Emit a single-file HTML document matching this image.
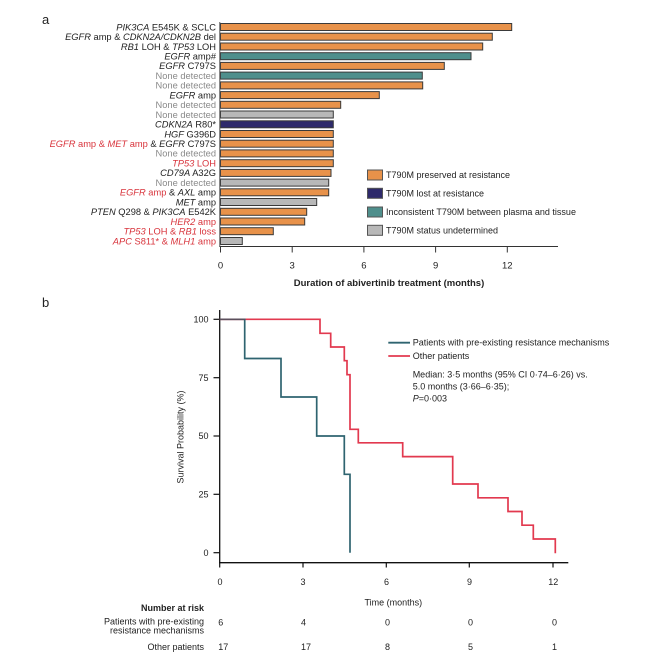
<!DOCTYPE html>
<html>
<head>
<meta charset="utf-8">
<style>
html,body{margin:0;padding:0;background:#fff;}
svg{display:block;}
text{font-family:"Liberation Sans",Arial,sans-serif;}
</style>
</head>
<body>
<svg width="668" height="665" viewBox="0 0 668 665" xmlns="http://www.w3.org/2000/svg">
<rect width="668" height="665" fill="#fff"/>

<!-- Panel labels -->
<text x="42" y="24" font-size="13" fill="#222">a</text>
<text x="42" y="307" font-size="13" fill="#222">b</text>

<!-- ===== Panel a: bars ===== -->
<g stroke="#3a3a3a" stroke-width="1">
<rect x="220.5" y="23.5" width="291.2" height="7" fill="#e8924a"/>
<rect x="220.5" y="33.2" width="271.8" height="7" fill="#e8924a"/>
<rect x="220.5" y="43.0" width="262.2" height="7" fill="#e8924a"/>
<rect x="220.5" y="52.7" width="250.5" height="7" fill="#4f8f8c"/>
<rect x="220.5" y="62.4" width="223.8" height="7" fill="#e8924a"/>
<rect x="220.5" y="72.1" width="201.8" height="7" fill="#4f8f8c"/>
<rect x="220.5" y="81.9" width="202.2" height="7" fill="#e8924a"/>
<rect x="220.5" y="91.6" width="158.8" height="7" fill="#e8924a"/>
<rect x="220.5" y="101.3" width="120.2" height="7" fill="#e8924a"/>
<rect x="220.5" y="111.0" width="112.8" height="7" fill="#b8b8b8"/>
<rect x="220.5" y="120.8" width="112.8" height="7" fill="#2e2a6b"/>
<rect x="220.5" y="130.5" width="112.8" height="7" fill="#e8924a"/>
<rect x="220.5" y="140.2" width="112.8" height="7" fill="#e8924a"/>
<rect x="220.5" y="149.9" width="112.8" height="7" fill="#e8924a"/>
<rect x="220.5" y="159.7" width="112.8" height="7" fill="#e8924a"/>
<rect x="220.5" y="169.4" width="110.5" height="7" fill="#e8924a"/>
<rect x="220.5" y="179.1" width="108.2" height="7" fill="#b8b8b8"/>
<rect x="220.5" y="188.8" width="108.2" height="7" fill="#e8924a"/>
<rect x="220.5" y="198.5" width="96.2" height="7" fill="#b8b8b8"/>
<rect x="220.5" y="208.3" width="86.2" height="7" fill="#e8924a"/>
<rect x="220.5" y="218.0" width="84.2" height="7" fill="#e8924a"/>
<rect x="220.5" y="227.7" width="52.8" height="7" fill="#e8924a"/>
<rect x="220.5" y="237.5" width="21.8" height="7" fill="#b8b8b8"/>
</g>

<!-- axes panel a -->
<line x1="219.8" y1="22" x2="219.8" y2="247" stroke="#555" stroke-width="1"/>
<line x1="219.5" y1="246.5" x2="558" y2="246.5" stroke="#333" stroke-width="1"/>
<g stroke="#333" stroke-width="1">
<line x1="220.5" y1="246.5" x2="220.5" y2="252.5"/>
<line x1="292.2" y1="246.5" x2="292.2" y2="252.5"/>
<line x1="363.9" y1="246.5" x2="363.9" y2="252.5"/>
<line x1="435.6" y1="246.5" x2="435.6" y2="252.5"/>
<line x1="507.3" y1="246.5" x2="507.3" y2="252.5"/>
</g>
<g font-size="9.5" fill="#222" text-anchor="middle">
<text x="220.5" y="268.5">0</text>
<text x="292.2" y="268.5">3</text>
<text x="363.9" y="268.5">6</text>
<text x="435.6" y="268.5">9</text>
<text x="507.3" y="268.5">12</text>
</g>
<text x="389" y="286" font-size="9.5" font-weight="bold" fill="#222" text-anchor="middle">Duration of abivertinib treatment (months)</text>

<!-- bar labels -->
<g font-size="9.3" fill="#222" text-anchor="end">
<text x="216" y="30.3"><tspan font-style="italic">PIK3CA</tspan> E545K &amp; SCLC</text>
<text x="216" y="40.0"><tspan font-style="italic">EGFR</tspan> amp &amp; <tspan font-style="italic">CDKN2A/CDKN2B</tspan>  del</text>
<text x="216" y="49.8"><tspan font-style="italic">RB1</tspan> LOH &amp; <tspan font-style="italic">TP53</tspan> LOH</text>
<text x="216" y="59.5"><tspan font-style="italic">EGFR</tspan> amp#</text>
<text x="216" y="69.2"><tspan font-style="italic">EGFR</tspan> C797S</text>
<text x="216" y="78.9" fill="#8a8a8a">None detected</text>
<text x="216" y="88.7" fill="#8a8a8a">None detected</text>
<text x="216" y="98.4"><tspan font-style="italic">EGFR</tspan> amp</text>
<text x="216" y="108.1" fill="#8a8a8a">None detected</text>
<text x="216" y="117.8" fill="#8a8a8a">None detected</text>
<text x="216" y="127.6"><tspan font-style="italic">CDKN2A</tspan> R80*</text>
<text x="216" y="137.3"><tspan font-style="italic">HGF</tspan> G396D</text>
<text x="216" y="147.0"><tspan fill="#d8343c" font-style="italic">EGFR</tspan><tspan fill="#d8343c"> amp &amp; </tspan><tspan fill="#d8343c" font-style="italic">MET</tspan><tspan fill="#d8343c"> amp</tspan> &amp; <tspan font-style="italic">EGFR</tspan> C797S</text>
<text x="216" y="156.7" fill="#8a8a8a">None detected</text>
<text x="216" y="166.5" fill="#d8343c"><tspan font-style="italic">TP53</tspan> LOH</text>
<text x="216" y="176.2"><tspan font-style="italic">CD79A</tspan> A32G</text>
<text x="216" y="185.9" fill="#8a8a8a">None detected</text>
<text x="216" y="195.6"><tspan fill="#d8343c" font-style="italic">EGFR</tspan><tspan fill="#d8343c"> amp</tspan> &amp; <tspan font-style="italic">AXL</tspan> amp</text>
<text x="216" y="205.3"><tspan font-style="italic">MET</tspan> amp</text>
<text x="216" y="215.1"><tspan font-style="italic">PTEN</tspan> Q298 &amp; <tspan font-style="italic">PIK3CA</tspan> E542K</text>
<text x="216" y="224.8" fill="#d8343c"><tspan font-style="italic">HER2</tspan> amp</text>
<text x="216" y="234.5" fill="#d8343c"><tspan font-style="italic">TP53</tspan> LOH &amp; <tspan font-style="italic">RB1</tspan> loss</text>
<text x="216" y="244.3" fill="#d8343c"><tspan font-style="italic">APC</tspan> S811* &amp; <tspan font-style="italic">MLH1</tspan> amp</text>
</g>

<!-- legend panel a -->
<g stroke="#555" stroke-width="1">
<rect x="367.5" y="170" width="15" height="10" fill="#e8924a"/>
<rect x="367.5" y="188.3" width="15" height="10" fill="#2e2a6b"/>
<rect x="367.5" y="207" width="15" height="10" fill="#4f8f8c"/>
<rect x="367.5" y="225.3" width="15" height="10" fill="#b8b8b8"/>
</g>
<g font-size="9" fill="#222">
<text x="386" y="178.2">T790M preserved at resistance</text>
<text x="386" y="196.5">T790M lost at resistance</text>
<text x="386" y="215.2">Inconsistent T790M between plasma and tissue</text>
<text x="386" y="233.5">T790M status undetermined</text>
</g>

<!-- ===== Panel b: KM ===== -->
<line x1="219.7" y1="310" x2="219.7" y2="563.3" stroke="#111" stroke-width="1.3"/>
<line x1="219.1" y1="562.7" x2="568.3" y2="562.7" stroke="#111" stroke-width="1.3"/>
<g stroke="#111" stroke-width="1.2">
<line x1="213.5" y1="319.3" x2="219.7" y2="319.3"/>
<line x1="213.5" y1="377.7" x2="219.7" y2="377.7"/>
<line x1="213.5" y1="436" x2="219.7" y2="436"/>
<line x1="213.5" y1="494.3" x2="219.7" y2="494.3"/>
<line x1="213.5" y1="552.7" x2="219.7" y2="552.7"/>
<line x1="219.7" y1="562.7" x2="219.7" y2="567.5"/>
<line x1="303" y1="562.7" x2="303" y2="567.5"/>
<line x1="386.3" y1="562.7" x2="386.3" y2="567.5"/>
<line x1="469.3" y1="562.7" x2="469.3" y2="567.5"/>
<line x1="553" y1="562.7" x2="553" y2="567.5"/>
</g>
<g font-size="9" fill="#222" text-anchor="end">
<text x="208.5" y="322.5">100</text>
<text x="208.5" y="380.9">75</text>
<text x="208.5" y="439.2">50</text>
<text x="208.5" y="497.5">25</text>
<text x="208.5" y="555.9">0</text>
</g>
<g font-size="9" fill="#222" text-anchor="middle">
<text x="220" y="585.2">0</text>
<text x="303" y="585.2">3</text>
<text x="386.5" y="585.2">6</text>
<text x="469.5" y="585.2">9</text>
<text x="553.3" y="585.2">12</text>
</g>
<text x="393.3" y="605.5" font-size="9" fill="#222" text-anchor="middle">Time (months)</text>
<text transform="translate(183.3,437) rotate(-90)" font-size="9" fill="#222" text-anchor="middle">Survival Probability (%)</text>

<!-- curves -->
<polyline fill="none" stroke="#e2394f" stroke-width="1.7" points="219.7,319.3 320,319.3 320,333.3 330.7,333.3 330.7,347 344.3,347 344.3,360.7 347,360.7 347,374.7 350,374.7 350,429.3 358.3,429.3 358.3,442.8 402.7,442.8 402.7,456.6 452.7,456.6 452.7,484 478,484 478,497.8 508,497.8 508,511.5 522,511.5 522,525.2 533.3,525.2 533.3,539 555.3,539 555.3,553.3"/>
<polyline fill="none" stroke="#2f6470" stroke-width="1.7" points="219.7,319.3 244.7,319.3 244.7,358.5 281,358.5 281,397 316.7,397 316.7,436 344.3,436 344.3,474.3 350,474.3 350,552.7"/>
<polyline fill="none" stroke="#8a3a48" stroke-width="1.7" stroke-opacity="0.5" points="219.7,319.3 244.7,319.3"/>

<!-- KM legend -->
<line x1="388.3" y1="342.7" x2="410" y2="342.7" stroke="#2f6470" stroke-width="1.8"/>
<line x1="388.3" y1="356" x2="410" y2="356" stroke="#e2394f" stroke-width="1.8"/>
<g font-size="9" fill="#222">
<text x="412.7" y="345.5">Patients with pre-existing resistance mechanisms</text>
<text x="412.7" y="359">Other patients</text>
<text x="412.7" y="377.5">Median: 3·5 months (95% CI 0·74–6·26) vs.</text>
<text x="412.7" y="389.5">5.0 months (3·66–6·35);</text>
<text x="412.7" y="401.5"><tspan font-style="italic">P</tspan>=0·003</text>
</g>

<!-- Number at risk -->
<g font-size="9" fill="#222">
<text x="204" y="611" font-weight="bold" text-anchor="end">Number at risk</text>
<text x="204" y="624.3" text-anchor="end">Patients with pre-existing</text>
<text x="204" y="633.6" text-anchor="end">resistance mechanisms</text>
<text x="204" y="650.2" text-anchor="end">Other patients</text>
<text x="218.3" y="625.3">6</text>
<text x="301" y="625.3">4</text>
<text x="385" y="625.3">0</text>
<text x="468" y="625.3">0</text>
<text x="552" y="625.3">0</text>
<text x="218.3" y="650.2">17</text>
<text x="301" y="650.2">17</text>
<text x="385" y="650.2">8</text>
<text x="468" y="650.2">5</text>
<text x="552" y="650.2">1</text>
</g>
</svg>
</body>
</html>
